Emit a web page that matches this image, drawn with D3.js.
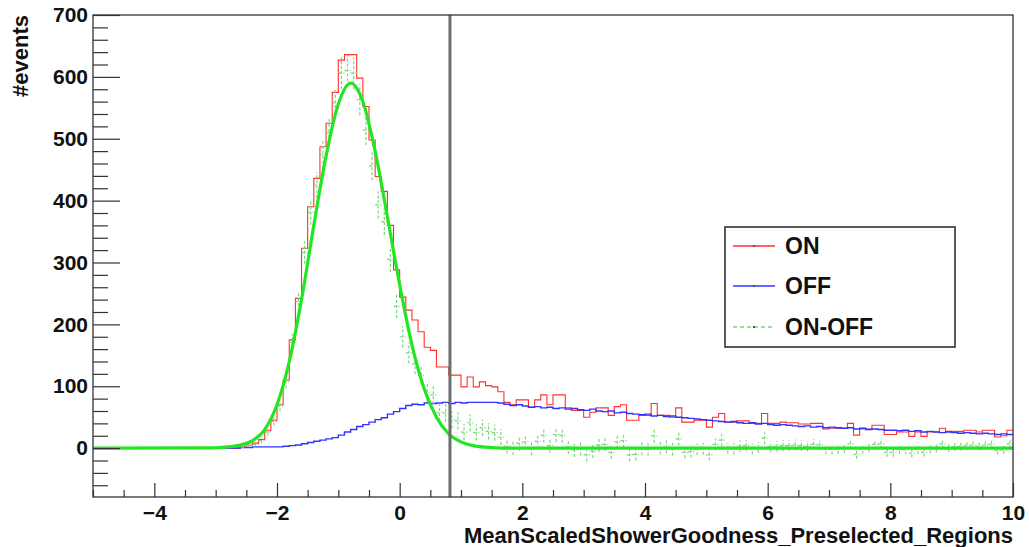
<!DOCTYPE html>
<html>
<head>
<meta charset="utf-8">
<script src="https://cdn.jsdelivr.net/npm/d3@7"></script>
<style>
  html, body { margin: 0; padding: 0; background: #fff; }
  svg { display: block; }
  text { font-family: "Liberation Sans", Arial, sans-serif; font-weight: bold; fill: #111; }
</style>
</head>
<body>
<svg id="chart" width="1029" height="547"></svg>
<script>
// ---------------- data ----------------
const binStart = -5, binEnd = 10, nBins = 150;   // histogram binning
const zeros24 = [0,0,0,0,0,0,0,0,0,0,0,0,0,0,0,0,0,0,0,0,0,0,0,0];

// ON counts, bins -2.6 .. 9.9 (preceded by 24 empty bins from -5)
const onCounts = zeros24.concat([
  3, 5, 8, 14, 28, 45, 70, 110, 175, 242,
  323, 390, 436, 487, 525, 575, 627, 636, 636, 598,
  552, 498, 439, 415, 360, 288, 244, 223, 207, 188,
  163, 158, 131, 131, 118, 118, 99, 115, 99, 107,
  101, 99, 91, 74, 70, 78, 78, 66, 78, 86,
  70, 86, 86, 65, 61, 61, 50, 58, 65, 65,
  53, 67, 70, 45, 45, 53, 53, 72, 53, 53,
  50, 65, 42, 42, 45, 45, 34, 50, 56, 42,
  42, 44, 44, 40, 40, 56, 40, 40, 42, 41,
  41, 39, 39, 40, 40, 31, 32, 32, 32, 40,
  21, 31, 31, 37, 37, 22, 22, 26, 26, 19,
  26, 19, 26, 26, 32, 27, 27, 27, 29, 29,
  26, 29, 29, 18, 20, 29
]);

// OFF counts, same binning
const offCounts = zeros24.concat([
  1, 1, 2, 2, 2, 2, 2, 3, 4, 5,
  7, 9, 11, 13, 15, 17, 21, 26, 30, 35,
  38, 42, 46, 49, 55, 59, 64, 69, 71, 70,
  73, 72, 73, 74, 72, 74, 73, 74, 74, 74,
  74, 74, 73, 71, 69, 70,
  68, 66, 67, 65, 66, 64, 65, 63, 64, 62,
  61, 63, 60, 59, 60, 57, 58, 56, 55, 54,
  55, 52, 53, 51, 52, 50, 49, 48, 47, 46,
  45, 44, 43, 42, 43, 41, 40, 41, 39, 40,
  38, 37, 38, 37, 36, 35, 36, 34, 35, 33,
  34, 33, 32, 33, 31, 32, 30, 31, 30, 29,
  29, 28, 29, 27, 28, 26, 27, 26, 25, 26,
  25, 24, 25, 24, 23, 24, 23, 22, 23, 22
]);

const fitX = [-5, -3.2, -3.0, -2.8, -2.6, -2.4, -2.2, -2.0, -1.8, -1.6, -1.4, -1.2, -1.0, -0.8,
              -0.6, -0.4, -0.2, 0.0, 0.2, 0.4, 0.6, 0.8, 1.0, 1.2, 1.4, 1.6, 1.8, 10];
const fitY = [0, 0.3, 0.6, 2, 5, 12, 30, 70, 140, 240, 360, 472, 556, 590,
              560, 480, 374, 264, 167, 96, 50, 23, 10, 4, 1.5, 0.5, 0, 0];

const cutValue = 0.82;
const xTicks = [-4, -2, 0, 2, 4, 6, 8, 10];
const yTicks = [0, 100, 200, 300, 400, 500, 600, 700];
const legendLabels = ["ON", "OFF", "ON-OFF"];
const xTitle = "MeanScaledShowerGoodness_Preselected_Regions";
const yTitle = "#events";

// ---------------- layout ----------------
const L = 93, R = 1013, T = 15, B = 497;
const svg = d3.select("#chart");
const x = d3.scaleLinear().domain([-5, 10]).range([L, R]);
const y = d3.scaleLinear().domain([-79, 700]).range([B, T]);

const binW = (binEnd - binStart) / nBins;
const edges = d3.range(nBins).map(i => binStart + i * binW);

svg.append("defs").append("clipPath").attr("id", "plotclip")
  .append("rect").attr("x", L).attr("y", T).attr("width", R - L).attr("height", B - T);
const plot = svg.append("g").attr("clip-path", "url(#plotclip)");

function stepLine(vals) {
  const pts = vals.map((v, i) => [edges[i], v]);
  pts.push([binEnd, vals[vals.length - 1]]);
  return d3.line().x(d => x(d[0])).y(d => y(d[1])).curve(d3.curveStepAfter)(pts);
}

// ON histogram
plot.append("path").attr("d", stepLine(onCounts))
  .attr("fill", "none").attr("stroke", "#ff3030").attr("stroke-width", 1.1);
// OFF histogram
plot.append("path").attr("d", stepLine(offCounts))
  .attr("fill", "none").attr("stroke", "#3333ff").attr("stroke-width", 1.4);

// ON-OFF with error bars
const diff = onCounts.map((v, i) => v - offCounts[i]);
const gPts = plot.append("g").attr("stroke", "#78d878").attr("stroke-width", 1.2)
  .attr("stroke-dasharray", "3,2").attr("fill", "none");
diff.forEach((d, i) => {
  if (onCounts[i] === 0 && offCounts[i] === 0) return;
  const err = Math.sqrt(onCounts[i] + offCounts[i]);
  const xc = edges[i] + binW / 2;
  gPts.append("line").attr("x1", x(edges[i])).attr("x2", x(edges[i] + binW))
    .attr("y1", y(d)).attr("y2", y(d));
  gPts.append("line").attr("x1", x(xc)).attr("x2", x(xc))
    .attr("y1", y(d - err)).attr("y2", y(d + err));
});

// Fit curve
plot.append("path")
  .attr("d", d3.line().x((d, i) => x(fitX[i])).y(d => y(d)).curve(d3.curveMonotoneX)(fitY))
  .attr("fill", "none").attr("stroke", "#22e622").attr("stroke-width", 3.2);

// Cut line
svg.append("line").attr("x1", x(cutValue)).attr("x2", x(cutValue))
  .attr("y1", T).attr("y2", B).attr("stroke", "#6e6e6e").attr("stroke-width", 3);

// ---------------- axes ----------------
const xMinor = d3.range(-5, 10.001, 0.5).filter(v => !xTicks.includes(Math.round(v * 10) / 10));
const yMinor = d3.range(-60, 700, 20).filter(v => v % 100 !== 0);

const gxMinor = svg.append("g").attr("transform", `translate(0,${B})`)
  .call(d3.axisBottom(x).tickValues(xMinor).tickSize(-7).tickFormat(""));
const gx = svg.append("g").attr("transform", `translate(0,${B})`)
  .call(d3.axisBottom(x).tickValues(xTicks).tickSize(-14).tickPadding(8));
const gyMinor = svg.append("g").attr("transform", `translate(${L},0)`)
  .call(d3.axisLeft(y).tickValues(yMinor).tickSize(-15).tickFormat(""));
const gy = svg.append("g").attr("transform", `translate(${L},0)`)
  .call(d3.axisLeft(y).tickValues(yTicks).tickSize(-27).tickPadding(5));

[gx, gy, gxMinor, gyMinor].forEach(g => {
  g.select(".domain").remove();
  g.selectAll(".tick line").attr("stroke", "#333").attr("stroke-width", 1.2);
  g.selectAll("text").attr("font-size", 21).attr("font-family", '"Liberation Sans", Arial, sans-serif')
    .attr("font-weight", "bold").attr("fill", "#111");
});

// frame
svg.append("rect").attr("x", L).attr("y", T).attr("width", R - L).attr("height", B - T)
  .attr("fill", "none").attr("stroke", "#333").attr("stroke-width", 1.3);

// titles
svg.append("text").attr("x", R).attr("y", 543).attr("text-anchor", "end")
  .attr("font-size", 22).text(xTitle);
svg.append("text").attr("transform", "translate(28,15) rotate(-90)")
  .attr("text-anchor", "end").attr("font-size", 22).text(yTitle);

// ---------------- legend ----------------
const leg = svg.append("g");
leg.append("rect").attr("x", 725).attr("y", 227).attr("width", 230).attr("height", 120)
  .attr("fill", "#fff").attr("stroke", "#333").attr("stroke-width", 1.6);
const legStyles = [
  { stroke: "#ff3030", dash: null },
  { stroke: "#3333ff", dash: null },
  { stroke: "#78d878", dash: "4,3" }
];
const legY = [246, 286, 327];
legendLabels.forEach((lab, i) => {
  leg.append("line").attr("x1", 733).attr("x2", 775).attr("y1", legY[i]).attr("y2", legY[i])
    .attr("stroke", legStyles[i].stroke).attr("stroke-width", 1.4)
    .attr("stroke-dasharray", legStyles[i].dash);
  leg.append("rect").attr("x", 753).attr("y", legY[i] - 1).attr("width", 2).attr("height", 2)
    .attr("fill", "#555");
  leg.append("text").attr("x", 785).attr("y", legY[i] + 8).attr("font-size", 23).text(lab);
});
</script>
</body>
</html>
